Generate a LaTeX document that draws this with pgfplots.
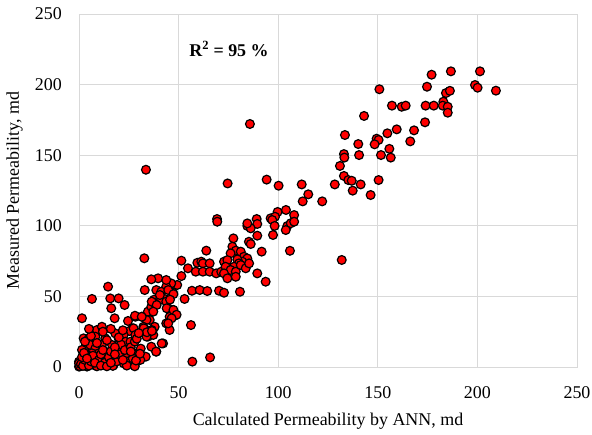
\documentclass[border=0pt]{standalone}
\usepackage{fontspec}
\setmainfont{Liberation Serif}
\usepackage{pgfplots}
\pgfplotsset{compat=1.18}
\definecolor{gridc}{RGB}{217,217,217}
\begin{document}
\fontsize{18}{21}\selectfont
\begin{tikzpicture}
\begin{axis}[name=ax, scale only axis, width=498bp, height=353bp,
  xmin=0, xmax=250, ymin=0, ymax=250,
  xtick={0,50,...,250}, ytick={0,50,...,250},
  grid=major, major grid style={draw=gridc, line width=0.9bp},
  axis line style={draw=gridc, line width=0.9bp},
  major tick length=0pt,
  /pgf/number format/assume math mode=true,
  tick label style={font=\fontsize{18}{21}\selectfont},
  xticklabel style={yshift=-13bp},
  yticklabel style={xshift=-11bp},
  xlabel={Calculated Permeability by ANN, md},
  ylabel={Measured Permeability, md},
  xlabel style={yshift=-3bp},
  label style={font=\fontsize{18}{21}\selectfont},
  clip=false]
\addplot[only marks, mark=*, mark size=4.4bp, mark options={fill=red, draw=black, line width=1.2bp}] table {
x y
150.8 196.7
177.0 207.0
186.7 209.4
201.3 209.4
174.7 198.5
198.8 199.7
200.1 197.8
209.3 195.7
184.2 194.0
186.2 195.6
157.1 185.1
162.0 184.3
164.0 185.1
174.0 185.1
178.1 185.1
182.9 187.9
182.6 185.1
185.1 184.3
185.1 180.1
143.1 177.8
173.7 173.3
133.5 164.3
154.8 165.5
159.5 168.3
168.2 167.6
166.3 159.8
149.4 161.7
150.4 160.8
148.4 157.7
140.2 157.9
155.8 154.5
156.5 148.3
151.6 150.1
140.6 150.1
133.0 150.8
133.2 148.3
131.0 142.4
133.0 135.3
135.2 132.4
136.9 131.9
137.4 124.9
141.4 129.3
150.4 132.4
146.4 121.8
128.4 129.3
115.1 122.3
111.8 129.3
112.3 117.3
122.1 117.3
131.9 75.8
33.6 139.7
85.8 172.1
74.6 130.0
94.2 132.7
100.2 128.4
69.3 104.8
89.2 104.8
99.7 109.8
103.9 111.2
108.0 107.6
96.2 105.3
98.4 106.4
84.5 99.9
89.5 101.3
86.2 98.2
97.0 104.1
98.2 99.9
104.6 99.9
106.3 101.8
108.0 102.9
103.8 97.0
97.4 93.5
89.5 93.0
77.5 91.1
85.3 88.7
86.2 87.1
91.7 81.7
105.9 82.3
77.0 85.2
78.7 82.4
84.5 101.7
69.4 102.9
63.9 82.4
51.4 75.3
54.7 69.9
58.6 67.5
59.4 73.8
61.4 74.6
62.2 73.4
65.6 73.4
62.2 67.5
65.6 67.5
68.9 66.3
71.4 67.5
73.9 69.9
72.8 74.6
56.7 54.0
60.6 54.5
64.4 53.8
70.3 54.0
72.8 52.6
51.4 64.4
49.3 58.1
46.3 59.2
47.2 52.6
43.8 56.9
43.8 61.6
39.7 62.8
36.3 62.1
38.8 54.5
41.3 53.3
37.7 47.7
42.8 48.3
53.0 48.2
32.8 77.0
76.1 80.5
81.2 81.7
82.8 78.1
84.5 76.9
82.0 74.6
79.5 76.2
80.3 73.4
77.8 71.0
74.5 75.7
73.6 71.0
76.1 68.7
78.7 67.5
81.2 72.2
83.7 69.9
85.4 73.4
72.8 66.3
74.5 62.8
78.7 63.9
89.5 66.3
93.7 60.4
80.8 53.3
56.2 29.7
56.9 3.8
65.8 6.8
6.5 48.2
15.7 48.6
19.9 48.6
22.9 43.9
16.2 41.6
14.6 56.9
33.0 54.5
1.5 34.5
17.9 34.5
24.6 32.6
28.3 35.6
31.6 35.6
35.3 39.7
40.5 47.5
43.8 46.3
44.7 41.6
47.2 40.4
45.5 35.6
48.0 36.3
43.8 30.9
45.5 26.2
42.2 16.7
38.8 10.9
36.3 14.4
37.1 26.2
34.6 21.5
34.6 39.2
36.3 42.7
38.0 45.1
35.5 33.3
38.0 28.5
33.5 7.3
40.6 51.0
44.8 54.5
47.4 51.6
45.7 47.7
36.5 46.3
39.0 43.9
44.0 41.6
47.4 40.4
49.0 37.0
46.5 34.5
44.8 30.9
37.3 39.2
33.9 33.3
32.3 28.5
33.9 26.2
37.3 22.7
33.9 21.5
36.5 26.2
28.1 36.3
31.5 35.6
26.9 27.4
25.3 25.5
32.5 27.4
34.1 24.6
36.6 25.5
9.0 26.2
11.5 28.5
8.2 21.5
13.2 20.3
18.2 23.8
22.4 22.7
19.9 20.3
23.3 17.9
16.6 15.6
27.4 27.4
28.3 22.7
25.8 17.9
2.3 20.3
4.9 20.3
3.2 14.4
1.5 12.1
5.7 15.6
8.2 13.2
11.5 15.6
13.2 10.9
9.9 9.7
6.5 9.7
4.0 8.5
0.0 3.8
1.5 1.5
4.0 3.8
7.4 6.2
10.7 3.8
14.1 5.0
18.2 6.2
21.6 7.3
24.1 9.7
27.4 9.7
21.6 13.2
29.9 9.7
30.8 5.0
28.3 2.6
22.4 2.6
17.4 1.5
13.2 1.5
8.2 1.0
4.0 0.3
0.0 0.3
0.0 2.6
0.5 0.5
1.0 2.0
2.0 0.8
3.0 5.0
1.5 7.0
2.5 10.0
5.0 1.0
6.0 4.0
7.0 8.0
9.0 0.5
10.0 5.0
11.0 9.0
12.0 12.0
13.0 3.0
15.0 7.0
16.0 11.0
17.0 0.8
19.0 4.0
20.0 9.0
21.0 16.0
23.0 12.0
25.0 4.0
26.0 14.0
28.0 18.0
29.0 20.0
30.0 24.0
31.0 13.0
27.0 6.0
3.0 18.0
6.0 22.0
9.0 17.0
12.0 25.0
14.0 19.0
16.0 27.0
18.0 14.0
20.0 21.0
22.0 26.0
5.0 27.0
8.0 3.0
4.0 6.0
11.0 1.0
14.0 0.5
16.0 3.0
18.0 9.0
24.0 1.0
26.0 11.0
22.0 5.0
28.0 0.5
28.6 4.6
30.6 9.4
41.5 16.7
38.7 10.9
};
\node[font=\bfseries\fontsize{18}{21}\selectfont] at (axis cs:75.3,225.2) {R\textsuperscript{2} = 95 \%};
\end{axis}
\pgfresetboundingbox
\path[use as bounding box] ([xshift=-79bp,yshift=-68bp]ax.south west) rectangle ([xshift=15bp,yshift=14bp]ax.north east);
\end{tikzpicture}
\end{document}
